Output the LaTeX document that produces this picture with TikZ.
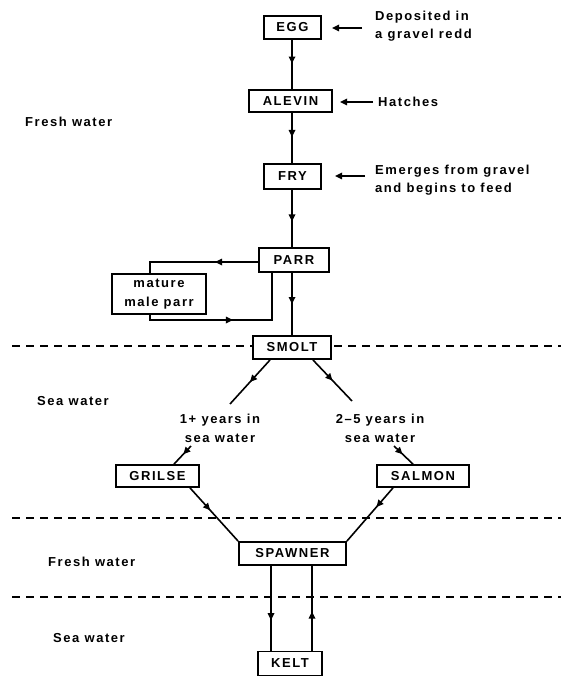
\documentclass[tikz,border=0pt]{standalone}
\usepackage{fontspec}
\setmainfont{Liberation Sans}[LetterSpace=12]
\usetikzlibrary{arrows.meta,decorations.markings}
\tikzset{
  stage/.style={draw, line width=1.8pt, fill=white, inner sep=0pt, align=center,
    font=\fontsize{13}{19}\selectfont\bfseries},
  note/.style={inner sep=0pt, align=left, font=\fontsize{13}{18.5}\selectfont\bfseries},
  ctext/.style={inner sep=0pt, align=center, font=\fontsize{13}{19}\selectfont\bfseries},
  conn/.style={line width=1.6pt},
  tipmark/.style={postaction={decorate}, decoration={markings,
    mark=at position #1 with {\arrow{Triangle[length=7pt,width=6.5pt]}}}},
  tipmark/.default=0.5,
  pointer/.style={line width=1.6pt, -{Triangle[length=7pt,width=6.5pt]}},
  sep/.style={line width=2pt, dash pattern=on 8pt off 6pt},
}
\begin{document}
\begin{tikzpicture}[x=1pt,y=-1pt]
\useasboundingbox (0,0) rectangle (561,676);

% separators
\draw[sep] (12,346) -- (561,346);
\draw[sep] (12,518) -- (561,518);
\draw[sep] (12,597) -- (561,597);

% stages
\node[stage, minimum width=57pt, minimum height=23pt] (egg) at (292.5,27.5) {EGG};
\node[stage, minimum width=83pt, minimum height=22pt] (alevin) at (290.5,101) {ALEVIN};
\node[stage, minimum width=57pt, minimum height=25pt] (fry) at (292.5,176.5) {FRY};
\node[stage, minimum width=70pt, minimum height=24pt] (parr) at (294,260) {PARR};
\node[stage, minimum width=94pt, minimum height=40pt] (mature) at (159,294) {mature\\male parr};
\node[stage, minimum width=78pt, minimum height=23pt] (smolt) at (292,347.5) {SMOLT};
\node[stage, minimum width=83pt, minimum height=22pt] (grilse) at (157.5,476) {GRILSE};
\node[stage, minimum width=92pt, minimum height=22pt] (salmon) at (423,476) {SALMON};
\node[stage, minimum width=107pt, minimum height=23pt] (spawner) at (292.5,553.5) {SPAWNER};
\node[stage, minimum width=64pt, minimum height=24pt] (kelt) at (290,663.5) {KELT};

% annotations
\node[note, anchor=west] (dep) at (375,26) {Deposited in\\a gravel redd};
\node[note, anchor=west] (hat) at (378,102) {Hatches};
\node[note, anchor=west] (emg) at (375,180) {Emerges from gravel\\and begins to feed};

\coordinate (a1s) at (362,28); \coordinate (a1e) at (332,28);
\coordinate (a2s) at (373,102); \coordinate (a2e) at (340,102);
\coordinate (a3s) at (365,176); \coordinate (a3e) at (335,176);
\draw[pointer] (a1s) -- (a1e);
\draw[pointer] (a2s) -- (a2e);
\draw[pointer] (a3s) -- (a3e);

% zone labels
\node[ctext, anchor=west] (fw1) at (25,122) {Fresh water};
\node[ctext, anchor=west] (sw1) at (37,401) {Sea water};
\node[ctext, anchor=west] (fw2) at (48,562) {Fresh water};
\node[ctext, anchor=west] (sw2) at (53,638) {Sea water};

% sea-water duration texts
\node[ctext] (yl) at (220,428) {1+ years in\\sea water};
\node[ctext] (yr) at (380,428) {2–5 years in\\sea water};

% main chain
\draw[conn, tipmark=0.48] (egg.south -| 292,0) -- (alevin.north -| 292,0);
\draw[conn, tipmark=0.48] (alevin.south -| 292,0) -- (fry.north -| 292,0);
\draw[conn, tipmark=0.55] (fry.south -| 292,0) -- (parr.north -| 292,0);
\draw[conn, tipmark=0.5] (parr.south -| smolt.north) -- (smolt.north);

% mature male parr loop
\coordinate (lt) at (150,262);
\coordinate (lb1) at (150,320);
\coordinate (lb2) at (272,320);
\draw[conn, tipmark=43pt] (parr.west |- lt) -- (lt) -- (lt |- mature.north);
\draw[conn, tipmark=88pt] (lb1 |- mature.south) -- (lb1) -- (lb2) -- (lb2 |- parr.south);

% smolt branches
\coordinate (s1) at (270,360); \coordinate (t1) at (230,404);
\coordinate (s2) at (313,360); \coordinate (t2) at (352,401);
\draw[conn, tipmark=0.5] (s1) -- (t1);
\draw[conn, tipmark=0.5] (s2) -- (t2);

\coordinate (u1) at (191,446); \coordinate (u2) at (394,446);
\draw[conn, tipmark=0.45] (u1) -- (grilse.north -| 174,0);
\draw[conn, tipmark=0.45] (u2) -- (salmon.north -| 413,0);

% to spawner
\draw[conn, tipmark=0.42] (grilse.south -| 190,0) -- (spawner.north west);
\draw[conn, tipmark=0.36] (salmon.south -| 393,0) -- (spawner.north east);

% spawner <-> kelt
\draw[conn, tipmark=0.64] (spawner.south -| 271,0) -- (kelt.north -| 271,0);
\draw[conn, tipmark=0.46] (kelt.north -| 312,0) -- (spawner.south -| 312,0);
\end{tikzpicture}
\end{document}
